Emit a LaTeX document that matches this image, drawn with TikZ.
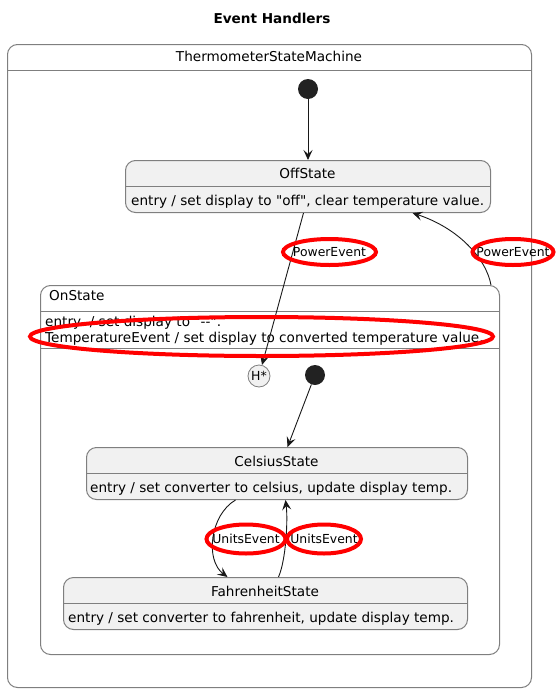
\documentclass[tikz,border=0pt]{standalone}
\usepackage{fontspec}
\setmainfont{DejaVu Sans}[Ligatures=TeXOff]
\usetikzlibrary{arrows.meta}
\definecolor{statefill}{HTML}{F1F1F1}
\definecolor{boxline}{HTML}{7F7F7F}
\definecolor{arrowc}{HTML}{181818}
\definecolor{dotc}{HTML}{222222}
\definecolor{hlred}{HTML}{FF0000}
\tikzset{
  container/.style={draw=boxline, line width=1pt, rounded corners=10pt, inner sep=0pt},
  statebox/.style={container, fill=statefill},
  divline/.style={draw=boxline, line width=1pt},
  initdot/.style={circle, fill=dotc, draw=none, minimum size=20pt, inner sep=0pt},
  hist/.style={circle, fill=statefill, draw=boxline, line width=0.8pt, minimum size=22pt, inner sep=0pt, font=\fontsize{12.5}{14}\selectfont},
  stname/.style={anchor=base, inner sep=0pt, font=\fontsize{13.6}{16}\selectfont},
  sttext/.style={anchor=base west, inner sep=0pt, font=\fontsize{13.6}{16}\selectfont},
  lbl/.style={inner sep=0pt, font=\fontsize{12.4}{14}\selectfont},
  hlline/.style={draw=hlred, line width=4pt},
  arr/.style={draw=arrowc, line width=0.9pt, -{Stealth[length=10pt,width=9pt,inset=4pt]}},
}
\begin{document}
\begin{tikzpicture}[x=1pt,y=-1pt]
\useasboundingbox (0,0) rectangle (558,691);

% title
\node[anchor=base, inner sep=0pt, font=\fontsize{13.6}{16}\selectfont\bfseries] (title) at (272,23) {Event Handlers};

% outer container
\node[container, minimum width=524pt, minimum height=643pt, anchor=north west] (tsm) at (7,44) {};
\draw[divline] (tsm.west |- 0,70.5) -- (tsm.east |- 0,70.5);
\node[stname] (tsmname) at (269,61.5) {ThermometerStateMachine};

% initial state
\node[initdot] (init1) at (308,89) {};

% OffState
\node[statebox, minimum width=365pt, minimum height=52pt, anchor=north west] (off) at (125,160) {};
\draw[divline] (off.west |- 0,186.5) -- (off.east |- 0,186.5);
\node[stname] (offname) at (307.5,178) {OffState};
\node[sttext] (offentry) at (131,205) {entry / set display to "off", clear temperature value.};

% OnState
\node[container, minimum width=459pt, minimum height=369pt, anchor=north west] (on) at (40,285) {};
\draw[divline] (on.west |- 0,311.5) -- (on.east |- 0,311.5);
\draw[divline] (on.west |- 0,348.5) -- (on.east |- 0,348.5);
\node[anchor=base west, inner sep=0pt, font=\fontsize{13.6}{16}\selectfont] (onname) at (49,300.5) {OnState};
\node[sttext] (onentry1) at (45,326.5) {entry\ \ / set display to "--".};
\node[sttext] (onentry2) at (45,342) {TemperatureEvent / set display to converted temperature value.};

\node[hist] (hist) at (259,376) {H*};
\node[initdot] (init2) at (315,375) {};

% CelsiusState
\node[statebox, minimum width=381pt, minimum height=52pt, anchor=north west] (cel) at (86,447) {};
\draw[divline] (cel.west |- 0,473.5) -- (cel.east |- 0,473.5);
\node[stname] (celname) at (276.5,466) {CelsiusState};
\node[sttext] (celentry) at (90,492) {entry / set converter to celsius, update display temp.};

% FahrenheitState
\node[statebox, minimum width=404pt, minimum height=52pt, anchor=north west] (fah) at (63,577) {};
\draw[divline] (fah.west |- 0,603.5) -- (fah.east |- 0,603.5);
\node[stname] (fahname) at (265,596) {FahrenheitState};
\node[sttext] (fahentry) at (68,622) {entry / set converter to fahrenheit, update display temp.};

% transitions
\draw[arr] (init1) -- (off.north -| init1);
\draw[arr] ([xshift=-4.5pt]off.south) -- (hist);
\draw[arr] ([xshift=-9pt]on.north east) .. controls (486,258) and (458,228) .. ([xshift=104.5pt]off.south);
\draw[arr] (init2) -- ([xshift=10.5pt]cel.north);
\draw[arr] ([xshift=-41.5pt]cel.south) .. controls (210,515) and (205,560) .. ([xshift=-38pt]fah.north);
\draw[arr] ([xshift=13pt]fah.north) .. controls (286,560) and (288,520) .. ([xshift=8.5pt]cel.south);

% labels
\node[lbl] (pe1) at (329.5,252) {PowerEvent};
\node[lbl] (pe2) at (513,252) {PowerEvent};
\node[lbl] (ue1) at (246,539) {UnitsEvent};
\node[lbl] (ue2) at (324,539) {UnitsEvent};

% highlights
\draw[hlline] (pe1.center) ellipse [x radius=46.5pt, y radius=13pt];
\draw[hlline] (pe2.center) ellipse [x radius=40.5pt, y radius=13pt];
\draw[hlline] (ue1.center) ellipse [x radius=39.5pt, y radius=14.5pt];
\draw[hlline] (ue2.center) ellipse [x radius=37pt, y radius=14.5pt];
\coordinate (tec) at (261.5,336.5);
\draw[hlline] (tec) ellipse [x radius=231.5pt, y radius=19.5pt];
\end{tikzpicture}
\end{document}
